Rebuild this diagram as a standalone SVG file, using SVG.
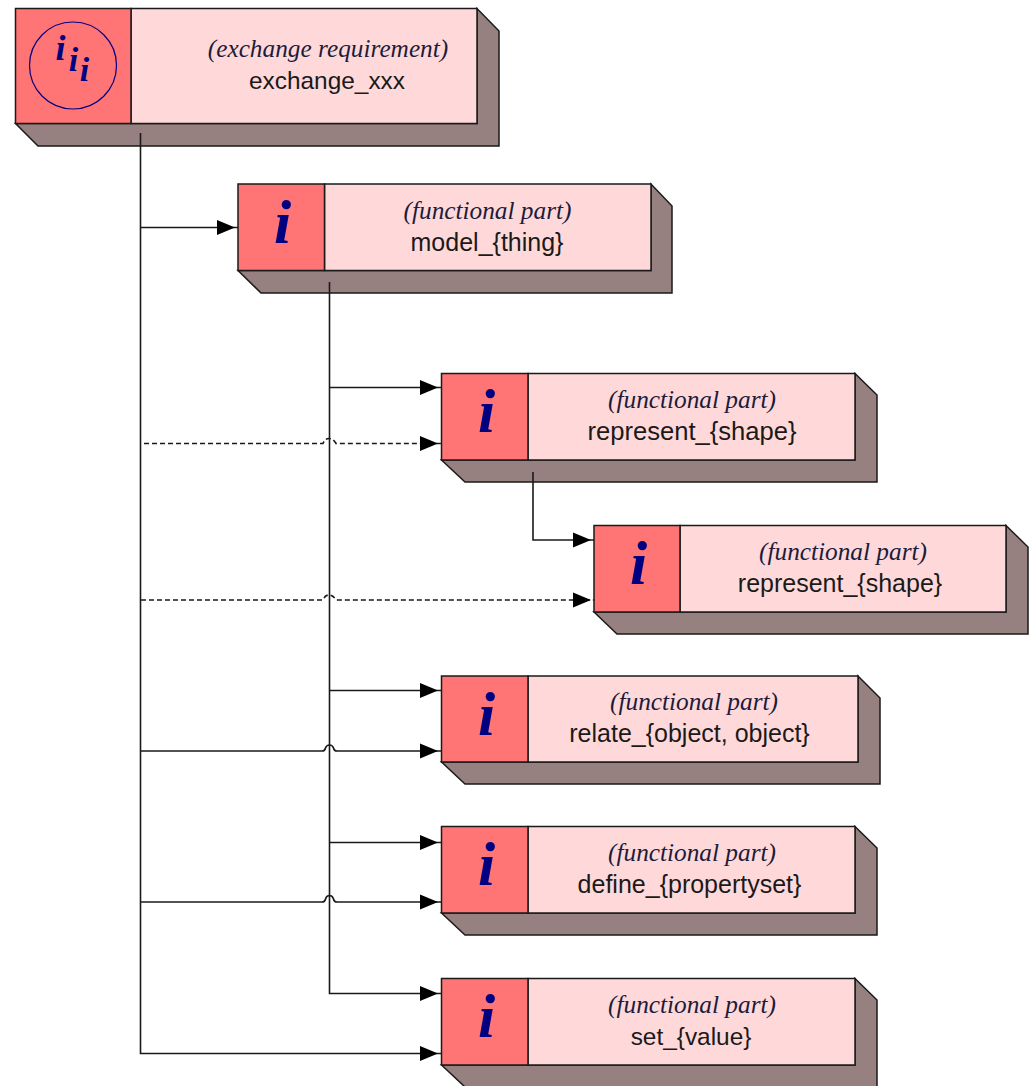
<svg xmlns="http://www.w3.org/2000/svg" width="1034" height="1086" viewBox="0 0 1034 1086">
<style>
.ln{stroke:#1a1a1a;stroke-width:1.5;stroke-linejoin:miter}
.front{fill:#ffd9d9}
.icon{fill:#ff7474}
.side{fill:#978080}
.kind{font-family:"Liberation Serif",serif;font-style:italic;font-size:25.300px;fill:#1c1c3c;text-anchor:middle}
.name{font-family:"Liberation Sans",sans-serif;font-size:25px;fill:#1a1a1a;text-anchor:middle}
.i{font-family:"Liberation Serif",serif;font-style:italic;font-weight:bold;fill:#000080;text-anchor:middle}
.c{fill:none;stroke:#1a1a1a;stroke-width:1.600}
.d{stroke-dasharray:5 3}
</style>
<defs>
<marker id="arrow" markerUnits="userSpaceOnUse" markerWidth="24" markerHeight="18" refX="21" refY="9" orient="auto"><path d="M0 1.500 L18 9 L0 16.500Z" fill="#000"/></marker>
</defs>
<g id="node-exchange">
<path class="side ln" d="M15.500 123.500 L38 146 H499 V31 L477 8.500 V123.500Z"/>
<rect class="front ln" x="131" y="8.500" width="346" height="115"/>
<rect class="icon ln" x="15.500" y="8.500" width="115.500" height="115"/>
<circle cx="73" cy="65.500" r="43.500" fill="none" stroke="#000080" stroke-width="1.200"/>
<text class="i" x="60.500" y="60" font-size="36">i</text>
<text class="i" x="73.500" y="71" font-size="34">i</text>
<text class="i" x="84.500" y="81" font-size="34">i</text>
<text class="kind" x="328" y="57">(exchange requirement)</text>
<text class="name" x="327" y="89" style="font-size:24.400px">exchange_xxx</text>
</g>
<g id="node-model">
<path class="side ln" d="M238 270.500 L261 293 H672 V206 L651 184 V270.500Z"/>
<rect class="front ln" x="324.500" y="184" width="326.500" height="86.500"/>
<rect class="icon ln" x="238" y="184" width="86.500" height="86.500"/>
<text class="i" x="282.500" y="243" font-size="62">i</text>
<text class="kind" x="487.500" y="219">(functional part)</text>
<text class="name" x="487" y="251">model_{thing}</text>
</g>
<g id="node-represent-1">
<path class="side ln" d="M441.500 460 L465 482 H877 V395 L855 373.500 V460Z"/>
<rect class="front ln" x="528" y="373.500" width="327" height="86.500"/>
<rect class="icon ln" x="441.500" y="373.500" width="86.500" height="86.500"/>
<text class="i" x="486.500" y="432" font-size="62">i</text>
<text class="kind" x="692" y="408">(functional part)</text>
<text class="name" x="692" y="440" style="font-size:25.600px">represent_{shape}</text>
</g>
<g id="node-represent-2">
<path class="side ln" d="M594 612 L617 634 H1028 V547 L1006 525.500 V612Z"/>
<rect class="front ln" x="680" y="525.500" width="326" height="86.500"/>
<rect class="icon ln" x="594" y="525.500" width="86" height="86.500"/>
<text class="i" x="638.500" y="584" font-size="62">i</text>
<text class="kind" x="843" y="560">(functional part)</text>
<text class="name" x="840" y="592">represent_{shape}</text>
</g>
<g id="node-relate">
<path class="side ln" d="M441.500 762 L465 784 H880 V698 L858 676 V762Z"/>
<rect class="front ln" x="528" y="676" width="330" height="86"/>
<rect class="icon ln" x="441.500" y="676" width="86.500" height="86"/>
<text class="i" x="486.500" y="735" font-size="62">i</text>
<text class="kind" x="694" y="710">(functional part)</text>
<text class="name" x="689.500" y="742">relate_{object, object}</text>
</g>
<g id="node-define">
<path class="side ln" d="M441.500 913 L465 935 H877 V848 L855 826.500 V913Z"/>
<rect class="front ln" x="528" y="826.500" width="327" height="86.500"/>
<rect class="icon ln" x="441.500" y="826.500" width="86.500" height="86.500"/>
<text class="i" x="486.500" y="885" font-size="62">i</text>
<text class="kind" x="692" y="861">(functional part)</text>
<text class="name" x="689.500" y="893">define_{propertyset}</text>
</g>
<g id="node-set">
<path class="side ln" d="M441.500 1065 L465 1087 H877 V1000 L855 978.500 V1065Z"/>
<rect class="front ln" x="528" y="978.500" width="327" height="86.500"/>
<rect class="icon ln" x="441.500" y="978.500" width="86.500" height="86.500"/>
<text class="i" x="486.500" y="1037" font-size="62">i</text>
<text class="kind" x="692" y="1013">(functional part)</text>
<text class="name" x="691" y="1045" style="font-size:24.400px">set_{value}</text>
</g>
<g id="connectors">
<path class="c" marker-end="url(#arrow)" d="M140.500 133 V1053.500 H441"/>
<path class="c" marker-end="url(#arrow)" d="M141 227.500 H238"/>
<path class="c" marker-end="url(#arrow)" d="M329.500 282 V993.500 H441"/>
<path class="c" marker-end="url(#arrow)" d="M330 387.500 H441"/>
<path class="c" marker-end="url(#arrow)" d="M330 690.500 H441"/>
<path class="c" marker-end="url(#arrow)" d="M330 842.500 H441"/>
<path class="c" marker-end="url(#arrow)" d="M533 472 V540 H594"/>
<path class="c d" marker-end="url(#arrow)" d="M144 443.500 H323 Q325 438.500 329 438.500 Q333 438.500 336 443.500 H441"/>
<path class="c d" marker-end="url(#arrow)" d="M141 600 H323 Q325 595 329 595 Q333 595 336 600 H594"/>
<path class="c" marker-end="url(#arrow)" d="M141 751 H322 Q325 751 325.500 748 Q326.500 745 329.500 745 Q332.500 745 333.500 748 Q334 751 337 751 H441"/>
<path class="c" marker-end="url(#arrow)" d="M141 902 H322 Q325 902 325.500 899 Q326.500 895.500 329.500 895.500 Q332.500 895.500 333.500 899 Q334 902 337 902 H441"/>
</g>
</svg>
